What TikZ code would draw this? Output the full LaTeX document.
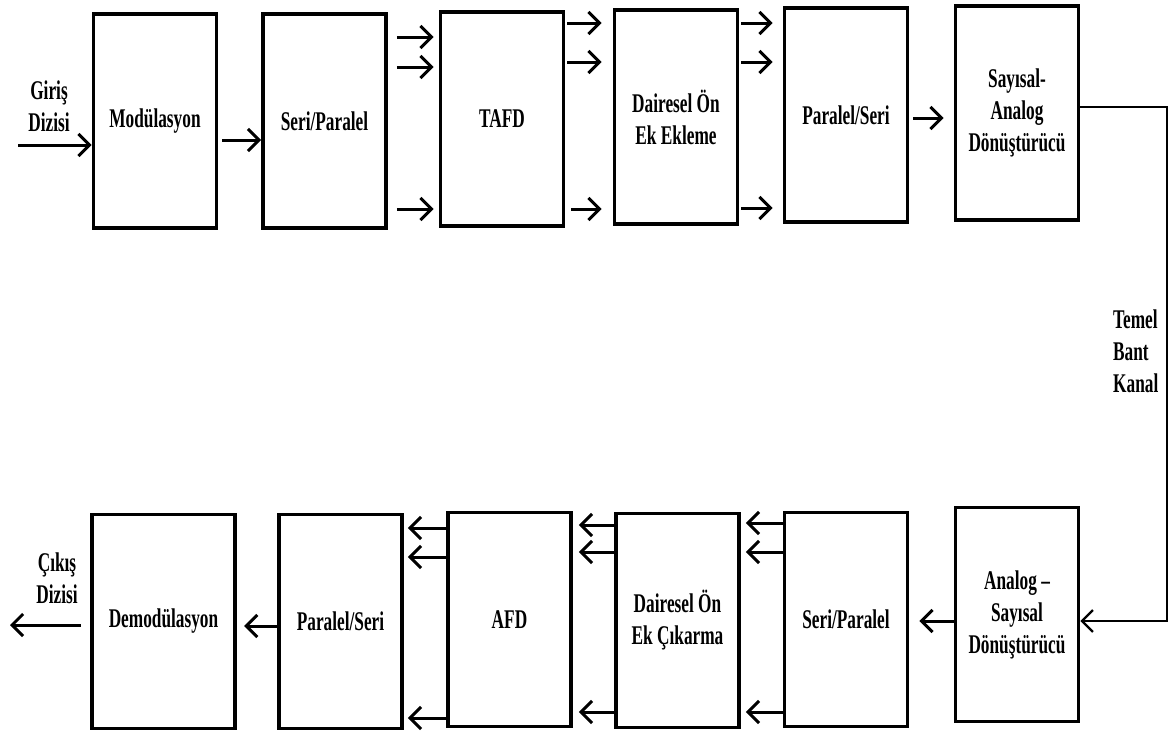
\documentclass[tikz,border=0pt]{standalone}
\usepackage{fontspec}
\setmainfont{Liberation Serif}[FakeStretch=0.64]
\usetikzlibrary{positioning,arrows.meta}

\begin{document}
\begin{tikzpicture}[x=1pt,y=-1pt,>={Straight Barb[length=11pt,width=22pt]},
  blok/.style={draw,line width=3.8pt,minimum width=123pt,minimum height=214pt,
    align=center,inner sep=0pt,font=\fontsize{27}{32}\selectfont\bfseries},
  ok/.style={->,line width=3pt},
  etiket/.style={align=center,inner sep=0pt,font=\fontsize{27}{32}\selectfont\bfseries}]
\useasboundingbox (0,0) rectangle (1171,736);
% verici
\node[blok] (mod) at (155,121) {Modülasyon};
\node[blok] (sp1) at (324.5,121) {Seri/Paralel};
\node[blok] (tafd) at (502,119) {TAFD};
\node[blok] (doe) at (676,117) {Dairesel Ön\\Ek Ekleme};
\node[blok] (ps1) at (846,115) {Paralel/Seri};
\node[blok] (sa) at (1017,113) {Sayısal-\\Analog\\Dönüştürücü};
% alici
\node[blok] (as) at (1017,614.5) {Analog –\\Sayısal\\Dönüştürücü};
\node[blok] (sp2) at (846,619.5) {Seri/Paralel};
\node[blok] (doc) at (677.5,620.5) {Dairesel Ön\\Ek Çıkarma};
\node[blok] (afd) at (509.5,619.5) {AFD};
\node[blok] (ps2) at (340.5,621.5) {Paralel/Seri};
\node[blok,minimum width=143.5pt] (dem) at (163.5,621.5) {Demodülasyon};
% etiketler
\node[etiket] (giris) at (49,106) {Giriş\\Dizisi};
\node[etiket] (cikis) at (57,578) {Çıkış\\Dizisi};
\node[etiket,align=left,anchor=west] (kanal) at (1113,351) {Temel\\Bant\\Kanal};
\coordinate (gir) at (18,145);
\coordinate (cik) at (10,625);
\coordinate (k1) at (1167,107);
\coordinate (k2) at (1167,621);

\draw[ok] (gir) -- (mod.west |- gir);
\draw[ok,shorten <=4pt] (mod.east |- 0,140) -- (sp1.west |- 0,140);
\draw[ok,shorten <=9pt,shorten >=5pt] (sp1.east |- 0,37) -- (tafd.west |- 0,37);
\draw[ok,shorten <=9pt,shorten >=5pt] (sp1.east |- 0,67) -- (tafd.west |- 0,67);
\draw[ok,shorten <=9pt,shorten >=5pt] (sp1.east |- 0,209) -- (tafd.west |- 0,209);
\draw[ok,shorten <=2pt,shorten >=11pt] (tafd.east |- 0,23) -- (doe.west |- 0,23);
\draw[ok,shorten <=2pt,shorten >=11pt] (tafd.east |- 0,62) -- (doe.west |- 0,62);
\draw[ok,shorten <=6pt,shorten >=11pt] (tafd.east |- 0,209) -- (doe.west |- 0,209);
\draw[ok,shorten <=2pt,shorten >=10pt] (doe.east |- 0,23) -- (ps1.west |- 0,23);
\draw[ok,shorten <=2pt,shorten >=10pt] (doe.east |- 0,62) -- (ps1.west |- 0,62);
\draw[ok,shorten <=2pt,shorten >=10pt] (doe.east |- 0,208) -- (ps1.west |- 0,208);
\draw[ok,shorten <=4pt,shorten >=10pt] (ps1.east |- 0,118) -- (sa.west |- 0,118);
\draw[->,line width=2.2pt] (sa.east |- k1) -- (k1) -- (k2) -- (as.east |- k2);

\draw[ok,shorten >=10pt] (as.west |- 0,621) -- (sp2.east |- 0,621);
\draw[ok,shorten >=5pt] (sp2.west |- 0,523) -- (doc.east |- 0,523);
\draw[ok,shorten >=5pt] (sp2.west |- 0,552) -- (doc.east |- 0,552);
\draw[ok,shorten >=5pt] (sp2.west |- 0,712) -- (doc.east |- 0,712);
\draw[ok,shorten >=6pt] (doc.west |- 0,525) -- (afd.east |- 0,525);
\draw[ok,shorten >=6pt] (doc.west |- 0,552) -- (afd.east |- 0,552);
\draw[ok,shorten >=6pt] (doc.west |- 0,712) -- (afd.east |- 0,712);
\draw[ok,shorten >=4pt] (afd.west |- 0,528) -- (ps2.east |- 0,528);
\draw[ok,shorten >=4pt] (afd.west |- 0,557) -- (ps2.east |- 0,557);
\draw[ok,shorten >=4pt] (afd.west |- 0,718) -- (ps2.east |- 0,718);
\draw[ok,shorten >=7pt] (ps2.west |- 0,626) -- (dem.east |- 0,626);
\draw[ok,shorten <=9pt] (dem.west |- cik) -- (cik);
\end{tikzpicture}
\end{document}
